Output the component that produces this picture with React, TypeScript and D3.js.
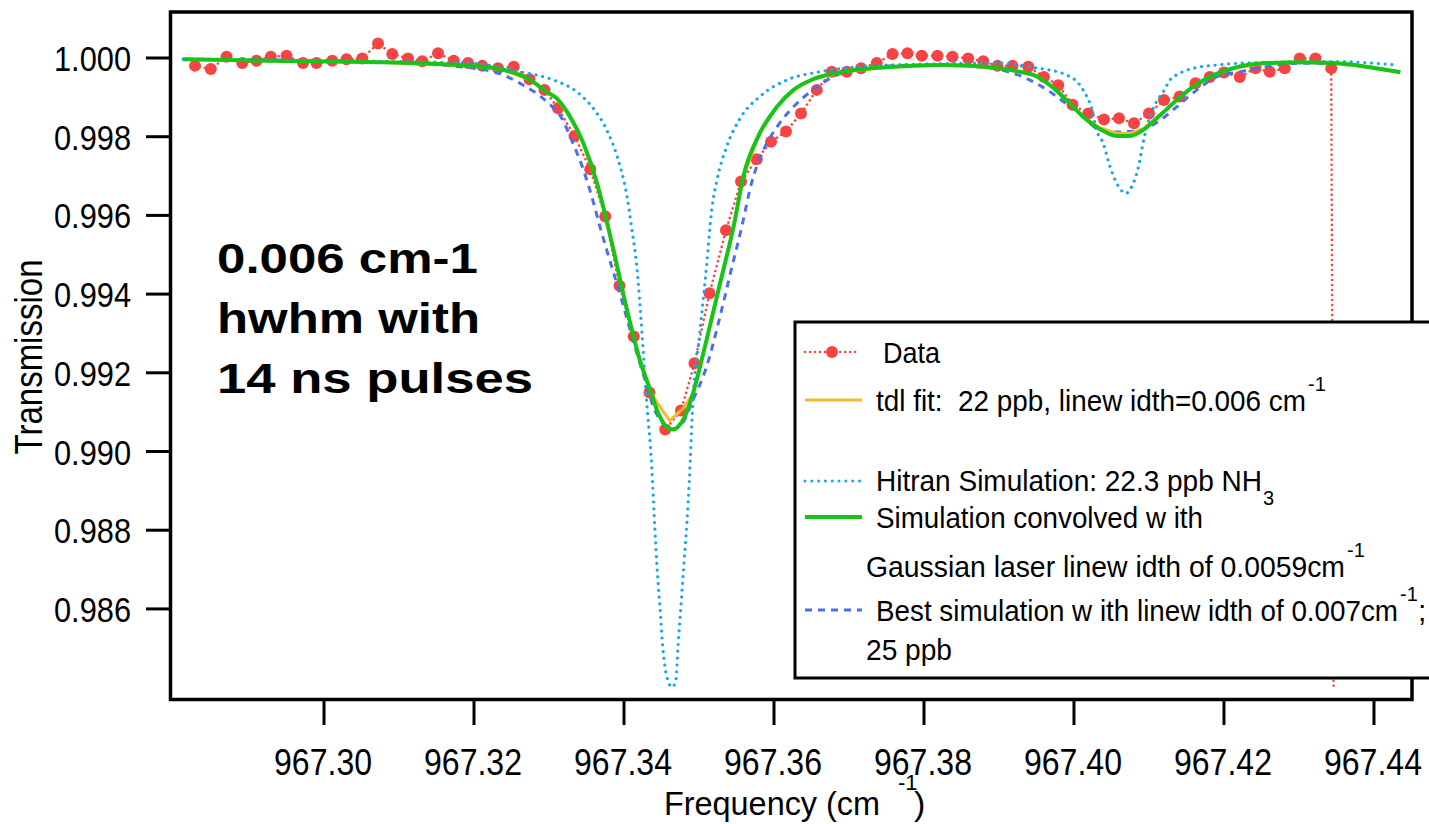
import React from "react";
import * as d3 from "d3";

// ---------- tick labels ----------
const xTickValues = [967.3, 967.32, 967.34, 967.36, 967.38, 967.4, 967.42, 967.44];
const yTickValues = [0.986, 0.988, 0.99, 0.992, 0.994, 0.996, 0.998, 1.0];

// ---------- measured data ----------
const dataFreq = [
  967.2828, 967.2849, 967.287, 967.2891, 967.291, 967.2929, 967.295, 967.2972, 967.299, 967.3011,
  967.303, 967.3051, 967.3072, 967.3091, 967.3112, 967.3131, 967.3152, 967.3173, 967.3192, 967.3211,
  967.3232, 967.3253, 967.3274, 967.3294, 967.3312, 967.3334, 967.3355, 967.3375, 967.3394, 967.3413,
  967.3434, 967.3455, 967.3476, 967.3494, 967.3514, 967.3536, 967.3556, 967.3577, 967.3596, 967.3616,
  967.3636, 967.3657, 967.3677, 967.3697, 967.3716, 967.3737, 967.3758, 967.3778, 967.3797, 967.3818,
  967.3838, 967.3859, 967.3879, 967.3898, 967.3918, 967.3939, 967.396, 967.3979, 967.3998, 967.4019,
  967.404, 967.406, 967.408, 967.41, 967.412, 967.4141, 967.4162, 967.4181, 967.42, 967.4221,
  967.4242, 967.4261, 967.4281, 967.4301, 967.4322, 967.4343, 967.4363,
];
const dataTrans = [
  0.9998, 0.99972, 1.00003, 0.99987, 0.99993, 1.00003, 1.00006, 0.99987, 0.99987, 0.99993,
  0.99997, 0.99999, 1.00037, 1.0001, 0.99999, 0.99992, 1.00012, 0.99993, 0.99987, 0.9998,
  0.99974, 0.99978, 0.99946, 0.99919, 0.99872, 0.99802, 0.99717, 0.99597, 0.99421, 0.99292,
  0.9915, 0.99056, 0.99104, 0.99224, 0.99402, 0.99562, 0.99686, 0.99743, 0.99787, 0.99813,
  0.99859, 0.99919, 0.99965, 0.99965, 0.99974, 0.99987, 1.0001, 1.00012, 1.00006, 1.00006,
  1.00003, 0.99999, 0.99992, 0.9998, 0.9998, 0.99978, 0.99952, 0.99931, 0.99881, 0.99859,
  0.99844, 0.99847, 0.99834, 0.99859, 0.99893, 0.99902, 0.99936, 0.99952, 0.99963, 0.99952,
  0.99974, 0.99965, 0.99974, 0.99999, 0.99999, 0.99974, 0.9,
];

// ---------- tdl fit (orange) ----------
const tdlFreq = [
  967.2812, 967.2928, 967.3061, 967.3195, 967.3239, 967.3275, 967.3297, 967.331, 967.3328, 967.3346,
  967.3364, 967.337, 967.3386, 967.3404, 967.3421, 967.3435, 967.3444, 967.3461, 967.348, 967.3492,
  967.351, 967.3528, 967.3546, 967.3559, 967.3581, 967.3604, 967.3626, 967.3652, 967.3692, 967.3759,
  967.3826, 967.3892, 967.3928, 967.3946, 967.3968, 967.399, 967.4012, 967.4035, 967.4057, 967.4075,
  967.4092, 967.4115, 967.4137, 967.4159, 967.4181, 967.4212, 967.4257, 967.4301, 967.4346, 967.439,
  967.4435,
];
const tdlTrans = [
  0.99997, 0.99993, 0.9999, 0.9998, 0.9997, 0.99944, 0.99914, 0.99898, 0.99851, 0.99783,
  0.99682, 0.99639, 0.99512, 0.9936, 0.99233, 0.99156, 0.99124, 0.99078, 0.99112, 0.99148,
  0.99283, 0.99427, 0.99571, 0.99698, 0.99809, 0.99876, 0.99919, 0.99946, 0.99965, 0.99978,
  0.99982, 0.99976, 0.99965, 0.99957, 0.99931, 0.99893, 0.99851, 0.99822, 0.99809, 0.99809,
  0.9982, 0.99855, 0.99893, 0.99927, 0.99952, 0.99974, 0.99987, 0.99989, 0.99987, 0.99978,
  0.99964,
];

// ---------- Hitran simulation (light blue dotted) ----------
const hitranFreq = [
  967.2812, 967.3061, 967.3195, 967.3261, 967.3306, 967.3337, 967.3359, 967.3377, 967.3391, 967.3404,
  967.341, 967.3417, 967.3424, 967.343, 967.3437, 967.3441, 967.3444, 967.3448, 967.3452, 967.3457,
  967.3464, 967.3469, 967.3472, 967.3476, 967.348, 967.3484, 967.3487, 967.3492, 967.3501, 967.351,
  967.3517, 967.3524, 967.3537, 967.3555, 967.3581, 967.3617, 967.3661, 967.3715, 967.3808, 967.3901,
  967.3946, 967.399, 967.4012, 967.4024, 967.403, 967.4039, 967.4048, 967.4055, 967.4061, 967.4069,
  967.4077, 967.4086, 967.4093, 967.4103, 967.411, 967.4119, 967.4128, 967.4141, 967.4159, 967.419,
  967.4257, 967.4346, 967.443,
];
const hitranTrans = [
  0.99997, 0.99992, 0.99987, 0.99965, 0.99944, 0.99914, 0.99872, 0.99817, 0.99749, 0.99648,
  0.99571, 0.9947, 0.993, 0.99131, 0.98961, 0.98809, 0.98707, 0.98601, 0.98496, 0.98428,
  0.98401, 0.98417, 0.98504, 0.9861, 0.98716, 0.98822, 0.98925, 0.99131, 0.993, 0.9947,
  0.99614, 0.9969, 0.99775, 0.99847, 0.99902, 0.99944, 0.99965, 0.99978, 0.99985, 0.99987,
  0.99976, 0.99957, 0.99919, 0.99868, 0.99817, 0.99783, 0.99724, 0.9969, 0.99669, 0.99656,
  0.99673, 0.99724, 0.99792, 0.99859, 0.99889, 0.99914, 0.99944, 0.99961, 0.99974, 0.99982,
  0.99989, 0.99991, 0.99982,
];

// ---------- Simulation convolved (green) ----------
const convFreq = [
  967.2812, 967.2928, 967.3061, 967.3195, 967.3239, 967.3275, 967.3297, 967.331, 967.3328, 967.3346,
  967.3364, 967.337, 967.3386, 967.3404, 967.3421, 967.3435, 967.3444, 967.3457, 967.3466, 967.3472,
  967.3481, 967.3492, 967.351, 967.3528, 967.3546, 967.3559, 967.3581, 967.3604, 967.3626, 967.3652,
  967.3692, 967.3759, 967.3826, 967.3892, 967.3928, 967.3946, 967.3968, 967.399, 967.4012, 967.4035,
  967.4057, 967.4075, 967.4092, 967.4115, 967.4137, 967.4159, 967.4181, 967.4212, 967.4257, 967.4301,
  967.4346, 967.439, 967.4435,
];
const convTrans = [
  0.99997, 0.99993, 0.9999, 0.9998, 0.9997, 0.99944, 0.99914, 0.99898, 0.99851, 0.99783,
  0.99682, 0.99639, 0.99512, 0.9936, 0.99233, 0.99156, 0.99105, 0.99063, 0.99056, 0.99063,
  0.99088, 0.99148, 0.99283, 0.99427, 0.99571, 0.99698, 0.99809, 0.99876, 0.99919, 0.99946,
  0.99965, 0.99978, 0.99982, 0.99976, 0.99965, 0.99957, 0.99931, 0.99893, 0.99851, 0.99819,
  0.99802, 0.99802, 0.99817, 0.99855, 0.99893, 0.99927, 0.99952, 0.99974, 0.99987, 0.99989,
  0.99987, 0.99978, 0.99964,
];

// ---------- Best simulation (blue dashed) ----------
const bestFreq = [
  967.2812, 967.3061, 967.3155, 967.3226, 967.3261, 967.3297, 967.3317, 967.3332, 967.3346, 967.3357,
  967.3368, 967.3377, 967.3397, 967.3412, 967.3428, 967.3441, 967.3455, 967.3464, 967.3475, 967.3492,
  967.351, 967.3528, 967.3544, 967.3557, 967.357, 967.3586, 967.3604, 967.3626, 967.3652, 967.3684,
  967.3737, 967.3804, 967.387, 967.3901, 967.3932, 967.3968, 967.3986, 967.4008, 967.4021, 967.4035,
  967.4057, 967.4088, 967.4115, 967.4132, 967.4164, 967.419, 967.4221, 967.4257, 967.4301, 967.4368,
  967.4435,
];
const bestTrans = [
  0.99997, 0.9999, 0.99982, 0.99965, 0.99936, 0.99889, 0.99847, 0.99783, 0.99715, 0.99648,
  0.99571, 0.99512, 0.99385, 0.99283, 0.99182, 0.99105, 0.99067, 0.99057, 0.99065, 0.99131,
  0.99215, 0.99343, 0.9947, 0.99571, 0.99682, 0.99766, 0.99825, 0.99876, 0.99919, 0.99957,
  0.99978, 0.99982, 0.99978, 0.9997, 0.99952, 0.99914, 0.99889, 0.99859, 0.99834, 0.99817,
  0.99812, 0.99817, 0.99842, 0.99868, 0.99919, 0.99952, 0.99965, 0.99978, 0.99987, 0.99982,
  0.99965,
];

// ---------- layout ----------
const W = 1429;
const H = 824;
const PL = 170.5;
const PR = 1412;
const PT = 12;
const PB = 699.5;
const FONT = "'Liberation Sans', Arial, Helvetica, sans-serif";

const C_RED = "#f64444";
const C_ORANGE = "#f8b632";
const C_LBLUE = "#17a6f2";
const C_GREEN = "#18c418";
const C_BLUE = "#4a70f0";

const x = d3.scaleLinear().domain([967.27953, 967.44507]).range([PL, PR]);
const y = d3.scaleLinear().domain([0.983698, 1.001169]).range([PB, PT]);

type P = [number, number];
const zip = (a: number[], b: number[]): P[] => a.map((v, i) => [v, b[i]]);

const smooth = d3
  .line<P>()
  .x((d) => x(d[0]))
  .y((d) => y(d[1]))
  .curve(d3.curveMonotoneX);
const straight = d3
  .line<P>()
  .x((d) => x(d[0]))
  .y((d) => y(d[1]))
  .curve(d3.curveLinear);

export default function App() {
  const data = zip(dataFreq, dataTrans);
  const tdl = zip(tdlFreq, tdlTrans);
  const hitran = zip(hitranFreq, hitranTrans);
  const conv = zip(convFreq, convTrans);
  const best = zip(bestFreq, bestTrans);

  const lx0 = 805;
  const lx1 = 862;

  return (
    <svg
      width={W}
      height={H}
      viewBox={`0 0 ${W} ${H}`}
      style={{ position: "absolute", left: 0, top: 0, background: "#fff" }}
      fontFamily={FONT}
    >
      <defs>
        <clipPath id="plotClip">
          <rect x={PL} y={PT} width={PR - PL} height={PB - PT - 12} />
        </clipPath>
      </defs>
      <rect x={0} y={0} width={W} height={H} fill="#fff" />

      <g clipPath="url(#plotClip)">
        <path
          d={straight(data) || ""}
          fill="none"
          stroke={C_RED}
          strokeWidth={2.6}
          strokeDasharray="0.01 5"
          strokeLinecap="round"
        />
        {data.map((d, i) => (
          <circle key={i} cx={x(d[0])} cy={y(d[1])} r={6} fill={C_RED} />
        ))}
        <path
          d={smooth(best) || ""}
          fill="none"
          stroke={C_BLUE}
          strokeWidth={3}
          strokeDasharray="7 6"
        />
        <path
          d={smooth(hitran) || ""}
          fill="none"
          stroke={C_LBLUE}
          strokeWidth={3.2}
          strokeDasharray="0.01 6.8"
          strokeLinecap="round"
        />
        <path d={straight(tdl) || ""} fill="none" stroke={C_ORANGE} strokeWidth={3} />
        <path d={smooth(conv) || ""} fill="none" stroke={C_GREEN} strokeWidth={4} />
      </g>

      {/* frame */}
      <rect x={PL} y={PT} width={PR - PL} height={PB - PT} fill="none" stroke="#000" strokeWidth={3.5} />

      {/* y axis ticks */}
      {yTickValues.map((v) => (
        <g key={v}>
          <line x1={146} x2={PL} y1={y(v)} y2={y(v)} stroke="#000" strokeWidth={3} />
          <text
            x={131}
            y={y(v) + 13}
            textAnchor="end"
            fontSize={35}
            textLength={77}
            lengthAdjust="spacingAndGlyphs"
            fill="#000"
          >
            {d3.format(".3f")(v)}
          </text>
        </g>
      ))}

      {/* x axis ticks */}
      {xTickValues.map((v) => (
        <g key={v}>
          <line x1={x(v)} x2={x(v)} y1={PB} y2={725} stroke="#000" strokeWidth={3} />
          <text
            x={x(v) - 50}
            y={775}
            fontSize={36}
            textLength={98}
            lengthAdjust="spacingAndGlyphs"
            fill="#000"
          >
            {d3.format(".2f")(v)}
          </text>
        </g>
      ))}

      {/* axis titles */}
      <text x={664} y={815} fontSize={34} textLength={216} lengthAdjust="spacingAndGlyphs" fill="#000">
        Frequency (cm
      </text>
      <text x={898} y={790} fontSize={22} fill="#000">
        -1
      </text>
      <text x={914} y={815} fontSize={34} fill="#000">
        )
      </text>
      <text
        transform="translate(42,357) rotate(-90)"
        textAnchor="middle"
        fontSize={38}
        textLength={195}
        lengthAdjust="spacingAndGlyphs"
        fill="#000"
      >
        Transmission
      </text>

      {/* annotation */}
      <g fontWeight="bold" fontSize={43} fill="#000">
        <text x={217} y={273} textLength={261} lengthAdjust="spacingAndGlyphs">
          0.006 cm-1
        </text>
        <text x={217} y={333} textLength={263} lengthAdjust="spacingAndGlyphs">
          hwhm with
        </text>
        <text x={217} y={393} textLength={316} lengthAdjust="spacingAndGlyphs">
          14 ns pulses
        </text>
      </g>

      {/* legend */}
      <g>
        <rect x={795} y={322} width={660} height={356} fill="#fff" stroke="#000" strokeWidth={3} />
        <line
          x1={lx0}
          x2={858}
          y1={352}
          y2={352}
          stroke={C_RED}
          strokeWidth={2.6}
          strokeDasharray="0.01 5"
          strokeLinecap="round"
        />
        <circle cx={832} cy={352} r={6} fill={C_RED} />
        <text x={883} y={363} fontSize={30} textLength={57} lengthAdjust="spacingAndGlyphs" fill="#000">
          Data
        </text>
        <line x1={lx0} x2={lx1} y1={400} y2={400} stroke={C_ORANGE} strokeWidth={3} />
        <text
          x={876}
          y={411}
          fontSize={30}
          textLength={430}
          lengthAdjust="spacingAndGlyphs"
          fill="#000"
          xmlSpace="preserve"
        >
          {"tdl fit:  22 ppb, linew idth=0.006 cm"}
        </text>
        <text x={1308} y={391} fontSize={20} fill="#000">
          -1
        </text>
        <line
          x1={lx0}
          x2={lx1}
          y1={481}
          y2={481}
          stroke={C_LBLUE}
          strokeWidth={3}
          strokeDasharray="0.01 6.8"
          strokeLinecap="round"
        />
        <text x={876} y={491} fontSize={30} textLength={386} lengthAdjust="spacingAndGlyphs" fill="#000">
          Hitran Simulation: 22.3 ppb NH
        </text>
        <text x={1263} y={505} fontSize={20} fill="#000">
          3
        </text>
        <line x1={lx0} x2={lx1} y1={517} y2={517} stroke={C_GREEN} strokeWidth={4} />
        <text x={876} y={528} fontSize={30} textLength={327} lengthAdjust="spacingAndGlyphs" fill="#000">
          Simulation convolved w ith
        </text>
        <text x={866} y={577} fontSize={30} textLength={479} lengthAdjust="spacingAndGlyphs" fill="#000">
          Gaussian laser linew idth of 0.0059cm
        </text>
        <text x={1347} y={557} fontSize={20} fill="#000">
          -1
        </text>
        <line x1={lx0} x2={lx1} y1={610} y2={610} stroke={C_BLUE} strokeWidth={3} strokeDasharray="7 6" />
        <text x={876} y={621} fontSize={30} textLength={522} lengthAdjust="spacingAndGlyphs" fill="#000">
          Best simulation w ith linew idth of 0.007cm
        </text>
        <text x={1400} y={601} fontSize={20} fill="#000">
          -1
        </text>
        <text x={1418} y={621} fontSize={30} fill="#000">
          ;
        </text>
        <text x={866} y={660} fontSize={30} textLength={86} lengthAdjust="spacingAndGlyphs" fill="#000">
          25 ppb
        </text>
      </g>
    </svg>
  );
}
